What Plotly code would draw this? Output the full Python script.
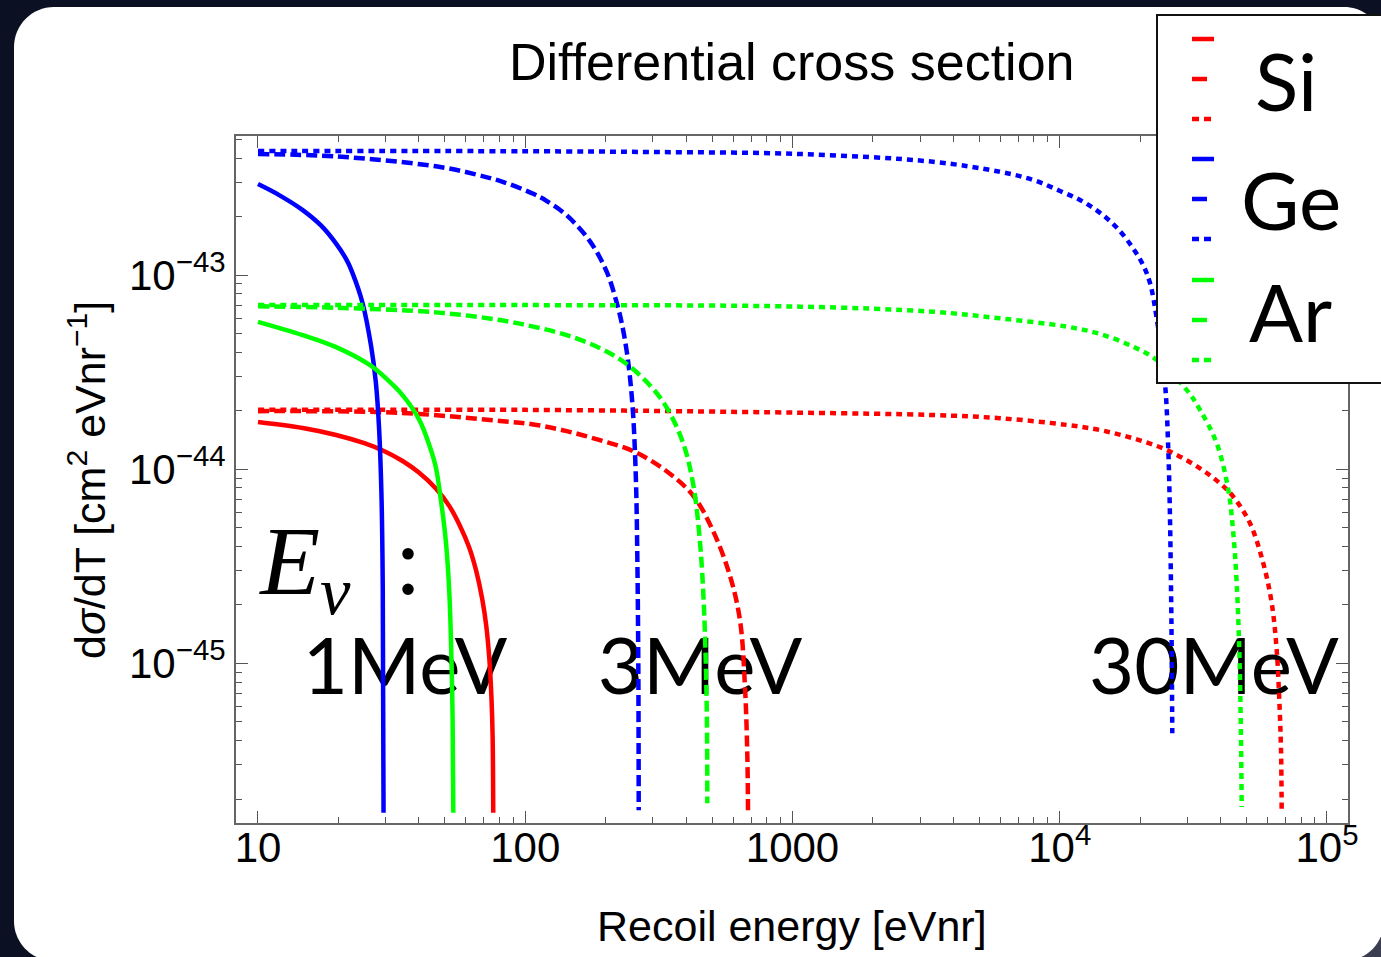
import plotly.graph_objects as go

# ---------------- data ----------------
# Recoil energy T [eVnr] and dsigma/dT [cm^2 eVnr^-1]
si_1_T = [10, 14.7, 19.6, 25, 30, 35, 40, 46.3, 52, 57, 61.7, 65.5, 69, 71.5, 73.4, 74.8, 75.5, 75.9]
si_1_Y = [1.75e-44, 1.63e-44, 1.50e-44, 1.36e-44, 1.23e-44, 1.095e-44, 9.6e-45, 7.95e-45, 6.45e-45,
          5.1e-45, 3.95e-45, 3.0e-45, 2.15e-45, 1.55e-45, 1.05e-45, 6.5e-46, 4.2e-46, 1.7e-46]
si_3_T = [10, 34, 80.5, 107.2, 142.9, 190.4, 253.7, 338, 425.4, 505.3, 583.6, 636.3, 664.2, 677.5, 681.6]
si_3_Y = [1.99e-44, 1.95e-44, 1.77e-44, 1.70e-44, 1.57e-44, 1.41e-44, 1.237e-44, 9.76e-45, 7.29e-45,
          4.78e-45, 2.82e-45, 1.66e-45, 7.5e-46, 3.39e-46, 1.75e-46]
si_30_T = [10, 100, 1067, 3355, 5976, 10620, 14150, 18850, 25130, 33480, 40000, 44610, 51510, 57770,
           62110, 64830, 66300, 67280, 67680]
si_30_Y = [2.02e-44, 2.02e-44, 1.953e-44, 1.90e-44, 1.83e-44, 1.69e-44, 1.59e-44, 1.44e-44, 1.255e-44,
           1.01e-44, 8.39e-45, 7.21e-45, 5.26e-45, 3.27e-45, 2.04e-45, 1.17e-45, 6.47e-46, 3.58e-46, 1.72e-46]

ge_1_T = [10, 12, 14.7, 17.2, 19.6, 21.5, 22.6, 24.6, 26.5, 27.6, 28.4, 29.0, 29.3, 29.5]
ge_1_Y = [2.94e-43, 2.58e-43, 2.16e-43, 1.80e-43, 1.45e-43, 1.19e-43, 1.02e-43, 7.2e-44, 4.3e-44,
          2.8e-44, 1.6e-44, 7.0e-45, 2.5e-45, 1.7e-46]
ge_3_T = [10, 19.6, 46.3, 64, 82.3, 107.2, 120, 142.9, 174.7, 201.7, 219.9, 230, 239.7, 247, 253.7,
          259.7, 262.6, 264.9, 265.8]
ge_3_Y = [4.2e-43, 4.08e-43, 3.63e-43, 3.32e-43, 3.02e-43, 2.62e-43, 2.41e-43, 2.03e-43, 1.49e-43,
          1.04e-43, 7.2e-44, 5.6e-44, 4.05e-44, 2.9e-44, 1.85e-44, 8.5e-45, 3.6e-45, 1.0e-45, 1.75e-46]
ge_30_T = [10, 100, 300, 1067, 3355, 5976, 8000, 10023, 12000, 14150, 16400, 18780, 20500, 21760, 23110,
           24760, 25480, 25850, 26070, 26240, 26370]
ge_30_Y = [4.35e-43, 4.34e-43, 4.30e-43, 4.20e-43, 3.83e-43, 3.40e-43, 3.08e-43, 2.71e-43, 2.42e-43,
           2.09e-43, 1.746e-43, 1.377e-43, 1.126e-43, 9.1e-44, 5.86e-44, 2.78e-44, 1.255e-44, 5.69e-45,
           2.58e-45, 1.17e-45, 4.36e-46]

ar_1_T = [10, 14.7, 19.6, 26.1, 30, 34.8, 40.1, 44, 46.3, 48.3, 50.5, 52.0, 53.0, 53.5, 53.8]
ar_1_Y = [5.74e-44, 4.9e-44, 4.25e-44, 3.45e-44, 2.95e-44, 2.40e-44, 1.80e-44, 1.30e-44, 1.02e-44,
          7.0e-45, 4.2e-45, 2.3e-45, 1.0e-45, 5.0e-46, 1.7e-46]
ar_3_T = [10, 19.6, 46.3, 80.5, 107.2, 142.9, 190.4, 239.7, 293, 338, 390, 425.4, 450.7, 466.6, 477.5, 480]
ar_3_Y = [6.9e-44, 6.78e-44, 6.42e-44, 5.86e-44, 5.42e-44, 4.9e-44, 4.2e-44, 3.48e-44, 2.7e-44, 2.08e-44,
          1.36e-44, 8.3e-45, 4.2e-45, 1.9e-45, 6.0e-46, 1.9e-46]
ar_30_T = [10, 100, 1067, 3355, 5976, 10620, 14150, 18850, 23070, 29850, 33480, 38660, 42730, 44610,
           45930, 46970, 47540, 47960]
ar_30_Y = [7.0e-44, 7.0e-44, 6.87e-44, 6.47e-44, 5.98e-44, 5.42e-44, 4.97e-44, 4.27e-44, 3.65e-44,
           2.56e-44, 2.02e-44, 1.36e-44, 7.81e-45, 4.67e-45, 2.58e-45, 1.17e-45, 5.31e-46, 1.82e-46]

elements = ["Si", "Ge", "Ar"]
energies = ["1MeV", "3MeV", "30MeV"]

x_tickvals = [10, 100, 1000, 1e4, 1e5]
x_ticktext = ["10", "100", "1000", "10<sup>4</sup>", "10<sup>5</sup>"]
y_tickvals = [1e-45, 1e-44, 1e-43]
y_ticktext = ["10<sup>\u221245</sup>", "10<sup>\u221244</sup>", "10<sup>\u221243</sup>"]

# ---------------- layout geometry ----------------
W, H = 1381, 957
L, R, T, B = 236, 1348, 136, 823
XR = [0.9177, 5.0786]
YR = [-45.8226, -42.284]


def px(x):
    return (x - L) / (R - L)


def py(y):
    return (B - y) / (B - T)


def dxv(x):
    return 10 ** (XR[0] + (x - L) / (R - L) * (XR[1] - XR[0]))


def dyv(y):
    return 10 ** (YR[0] + (B - y) / (B - T) * (YR[1] - YR[0]))


colors = {"Si": "#FF0000", "Ge": "#0000FF", "Ar": "#00FF00"}
dashes = {"1MeV": "solid", "3MeV": "11px,5px", "30MeV": "6px,5px"}
series = {
    ("Si", "1MeV"): (si_1_T, si_1_Y), ("Si", "3MeV"): (si_3_T, si_3_Y), ("Si", "30MeV"): (si_30_T, si_30_Y),
    ("Ge", "1MeV"): (ge_1_T, ge_1_Y), ("Ge", "3MeV"): (ge_3_T, ge_3_Y), ("Ge", "30MeV"): (ge_30_T, ge_30_Y),
    ("Ar", "1MeV"): (ar_1_T, ar_1_Y), ("Ar", "3MeV"): (ar_3_T, ar_3_Y), ("Ar", "30MeV"): (ar_30_T, ar_30_Y),
}

fig = go.Figure()

# in-plot labels (drawn first so the curves pass over them)
lab_px = [405, 700, 1214]
fig.add_trace(go.Scatter(
    x=[dxv(v) for v in lab_px], y=[dyv(674)] * 3, mode="text", text=energies,
    textfont=dict(family="Lato", size=78, color="black"), textposition="middle center",
    hoverinfo="skip", showlegend=False, cliponaxis=False))
fig.add_trace(go.Scatter(
    x=[dxv(341)], y=[dyv(569)], mode="text",
    text=["<i>E</i><sub><i>\u03bd</i></sub>\u00a0\u2009:"],
    textfont=dict(family="Liberation Serif", size=98, color="black"), textposition="middle center",
    hoverinfo="skip", showlegend=False, cliponaxis=False))

for el in elements:
    for en in energies:
        tx, ty = series[(el, en)]
        fig.add_trace(go.Scatter(
            x=tx, y=ty, mode="lines", name=f"{el} {en}",
            line=dict(color=colors[el], width=4.5, dash=dashes[en], shape="spline", smoothing=1.0),
            showlegend=False, hoverinfo="skip"))

xminor = [m * 10 ** k for k in range(1, 5) for m in range(2, 10)]
yminor = [m * 10.0 ** k for k in range(-46, -42) for m in range(2, 10)]

axis_common = dict(
    ticks="inside", ticklen=12, tickwidth=1.2, tickcolor="#555555",
    showline=True, linecolor="#666666", linewidth=2, mirror="ticks",
    showgrid=False, zeroline=False,
    tickfont=dict(family="Liberation Sans, Arial", size=42, color="black"),
)
fig.update_xaxes(type="log", range=XR, tickmode="array", tickvals=x_tickvals, ticktext=x_ticktext,
                 ticklabelstandoff=-13,
                 minor=dict(tickmode="array", tickvals=xminor, ticks="inside", ticklen=6,
                            tickcolor="#555555", tickwidth=1, showgrid=False),
                 **axis_common)
fig.update_yaxes(type="log", range=YR, tickmode="array", tickvals=y_tickvals, ticktext=y_ticktext,
                 minor=dict(tickmode="array", tickvals=yminor, ticks="inside", ticklen=6,
                            tickcolor="#555555", tickwidth=1, showgrid=False),
                 **axis_common)


def rounded_rect(x0, y0, x1, y1, r):
    k = 0.5523 * r
    pts = [
        f"M {px(x0)},{py(y0 + r)}",
        f"C {px(x0)},{py(y0 + r - k)} {px(x0 + r - k)},{py(y0)} {px(x0 + r)},{py(y0)}",
        f"L {px(x1 - r)},{py(y0)}",
        f"C {px(x1 - r + k)},{py(y0)} {px(x1)},{py(y0 + r - k)} {px(x1)},{py(y0 + r)}",
        f"L {px(x1)},{py(y1 - r)}",
        f"C {px(x1)},{py(y1 - r + k)} {px(x1 - r + k)},{py(y1)} {px(x1 - r)},{py(y1)}",
        f"L {px(x0 + r)},{py(y1)}",
        f"C {px(x0 + r - k)},{py(y1)} {px(x0)},{py(y1 - r + k)} {px(x0)},{py(y1 - r)}",
        "Z",
    ]
    return " ".join(pts)


shapes = [
    dict(type="rect", xref="paper", yref="paper", x0=px(1330), x1=px(1381), y0=py(957), y1=py(890),
         fillcolor="#3b3d50", line=dict(width=0), layer="below"),
    dict(type="path", xref="paper", yref="paper", path=rounded_rect(14, 7, 1384, 961, 40),
         fillcolor="white", line=dict(width=0), layer="below"),
    # legend box
    dict(type="rect", xref="paper", yref="paper", x0=px(1157), x1=px(1400), y0=py(383), y1=py(15),
         fillcolor="white", line=dict(color="#111111", width=2), layer="above"),
]

leg_rows = {"Si": [39, 79, 119], "Ge": [159, 199, 239], "Ar": [280, 320, 360]}
for el in elements:
    ys = leg_rows[el]
    shapes.append(dict(type="line", xref="paper", yref="paper", x0=px(1192), x1=px(1214),
                       y0=py(ys[0]), y1=py(ys[0]), line=dict(color=colors[el], width=4.5), layer="above"))
    shapes.append(dict(type="line", xref="paper", yref="paper", x0=px(1192), x1=px(1207),
                       y0=py(ys[1]), y1=py(ys[1]), line=dict(color=colors[el], width=4.5), layer="above"))
    shapes.append(dict(type="line", xref="paper", yref="paper", x0=px(1192), x1=px(1212),
                       y0=py(ys[2]), y1=py(ys[2]), line=dict(color=colors[el], width=4.5, dash="7px,5px"),
                       layer="above"))

leg_text_pos = {"Si": (1286, 80), "Ge": (1291, 199), "Ar": (1290, 311)}
annotations = []
for el in elements:
    xx, yy = leg_text_pos[el]
    annotations.append(dict(xref="paper", yref="paper", x=px(xx), y=py(yy), text=el, showarrow=False,
                            xanchor="center", yanchor="middle",
                            font=dict(family="Lato", size=80, color="black")))

annotations += [
    dict(xref="paper", yref="paper", x=px(792), y=py(62), text="Differential cross section",
         showarrow=False, xanchor="center", yanchor="middle",
         font=dict(family="Liberation Sans, Arial", size=52, color="black")),
    dict(xref="paper", yref="paper", x=px(792), y=py(926), text="Recoil energy [eVnr]",
         showarrow=False, xanchor="center", yanchor="middle",
         font=dict(family="Liberation Sans, Arial", size=43, color="black")),
    dict(xref="paper", yref="paper", x=px(87), y=py(480),
         text="d<i>\u03c3</i>/dT [cm<sup>2</sup> eVnr<sup>\u22121</sup>]",
         showarrow=False, xanchor="center", yanchor="middle", textangle=-90,
         font=dict(family="Liberation Sans, Arial", size=43, color="black")),
]

fig.update_layout(
    width=W, height=H,
    margin=dict(l=L, r=W - R, t=T, b=H - B, pad=0),
    paper_bgcolor="#0c1023", plot_bgcolor="white",
    showlegend=False, hovermode=False,
    shapes=shapes, annotations=annotations,
)

fig.write_html("out.html")
